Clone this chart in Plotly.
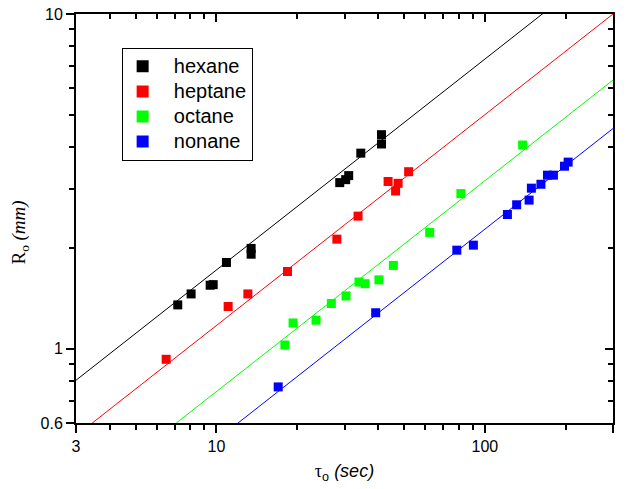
import plotly.graph_objects as go
import math

# ---------------- data ----------------
names = ["hexane", "heptane", "octane", "nonane"]
colors = ["#000000", "#ff0000", "#00ff00", "#0000ff"]

hexane_tau = [7.18, 8.05, 9.48, 9.73, 10.9, 13.47, 13.47, 28.8, 30.3, 31.1, 34.5, 41.2, 41.2]
hexane_R = [1.352, 1.458, 1.548, 1.554, 1.81, 1.994, 1.916, 3.135, 3.2, 3.29, 3.84, 4.36, 4.09]

heptane_tau = [6.5, 11.06, 13.1, 18.4, 28.1, 33.7, 43.6, 47.5, 46.5, 52.0]
heptane_R = [0.930, 1.337, 1.458, 1.701, 2.125, 2.49, 3.16, 3.12, 2.96, 3.38]

octane_tau = [17.99, 19.3, 23.5, 26.8, 30.4, 33.96, 35.8, 40.3, 45.6, 62.3, 81.4, 138.2]
octane_R = [1.026, 1.194, 1.217, 1.365, 1.438, 1.582, 1.564, 1.606, 1.774, 2.226, 2.907, 4.06]

nonane_tau = [16.99, 39.2, 78.6, 90.6, 121.3, 131.3, 146.1, 149.0, 161.7, 171.0, 180.0, 197.9, 204.2]
nonane_R = [0.769, 1.281, 1.970, 2.039, 2.518, 2.692, 2.78, 3.018, 3.10, 3.30, 3.30, 3.51, 3.61]

# power-law fits R = a * tau^b
fit_a = [0.403, 0.275, 0.1746, 0.1251]
fit_b = [0.63, 0.63, 0.63, 0.63]

x_range = [3, 300]
y_range = [0.6, 10]
x_major = [3, 10, 100, 300]
x_major_text = ["3", "10", "100", "300"]
x_minor = [4, 5, 6, 7, 8, 9, 20, 30, 40, 50, 60, 70, 80, 90, 200]
y_major = [0.6, 1, 10]
y_major_text = ["0.6", "1", "10"]
y_minor = [0.7, 0.8, 0.9, 2, 3, 4, 5, 6, 7, 8, 9]

# ---------------- figure ----------------
SANS = "Liberation Sans, Arial, sans-serif"
SERIF = "Liberation Serif, Times New Roman, serif"
fig = go.Figure()

taus = [hexane_tau, heptane_tau, octane_tau, nonane_tau]
Rs = [hexane_R, heptane_R, octane_R, nonane_R]

for a, b, c in zip(fit_a, fit_b, colors):
    xs = list(x_range)
    ys = [a * x ** b for x in xs]
    fig.add_trace(go.Scatter(x=xs, y=ys, mode="lines", line=dict(color=c, width=1),
                             showlegend=False, hoverinfo="skip"))

for n, t, r, c in zip(names, taus, Rs, colors):
    fig.add_trace(go.Scatter(
        x=t, y=r, mode="markers",
        name='<span style="font-size:20px">\u00a0\u00a0' + n + '</span>',
        marker=dict(symbol="square", size=9, color=c, line=dict(width=0))))

# invisible trace for mirrored axes
fig.add_trace(go.Scatter(x=[10], y=[1], xaxis="x2", yaxis="y2", mode="markers",
                         marker=dict(opacity=0), showlegend=False, hoverinfo="skip"))

lx = [math.log10(v) for v in x_range]
ly = [math.log10(v) for v in y_range]

common = dict(showgrid=False, zeroline=False, showline=True, linecolor="black", linewidth=2,
              tickcolor="black", tickwidth=2, ticklen=8, automargin=False)


def minor(vals, side):
    return dict(tickmode="array", tickvals=vals, ticks=side, ticklen=5,
                tickwidth=2, tickcolor="black", showgrid=False)


fig.update_layout(
    width=626, height=489,
    margin=dict(l=76, r=13, t=14, b=66),
    paper_bgcolor="white", plot_bgcolor="white",
    font=dict(family=SANS, size=16, color="black"),
    xaxis=dict(type="log", range=lx, tickmode="array", tickvals=x_major, ticktext=x_major_text,
               ticks="outside", minor=minor(x_minor, "outside"),
               title=dict(text='<span style="font-family:Liberation Serif">τ</span><sub>o</sub> <i>(sec)</i>',
                          font=dict(size=18, family=SANS), standoff=10),
               **common),
    yaxis=dict(type="log", range=ly, tickmode="array", tickvals=y_major, ticktext=y_major_text,
               ticks="outside", minor=minor(y_minor, "outside"), **common),
    xaxis2=dict(type="log", range=lx, overlaying="x", side="top", anchor="y2",
                tickmode="array", tickvals=x_major, showticklabels=False, ticks="inside",
                minor=minor(x_minor, "inside"), **common),
    yaxis2=dict(type="log", range=ly, overlaying="y", side="right", anchor="x2",
                tickmode="array", tickvals=y_major, showticklabels=False, ticks="inside",
                minor=minor(y_minor, "inside"), **common),
    legend=dict(x=0.085, y=0.9175, xanchor="left", yanchor="top",
                bgcolor="white", bordercolor="black", borderwidth=1,
                font=dict(family=SANS, size=17), itemsizing="constant",
                tracegroupgap=0),
    showlegend=True,
    annotations=[dict(text="R<sub>o</sub> <i>(mm)</i>", textangle=-90,
                      xref="paper", yref="paper", x=-0.104, y=0.466,
                      xanchor="center", yanchor="middle", showarrow=False,
                      font=dict(size=19, family=SERIF))],
)

fig.write_html("out.html")
